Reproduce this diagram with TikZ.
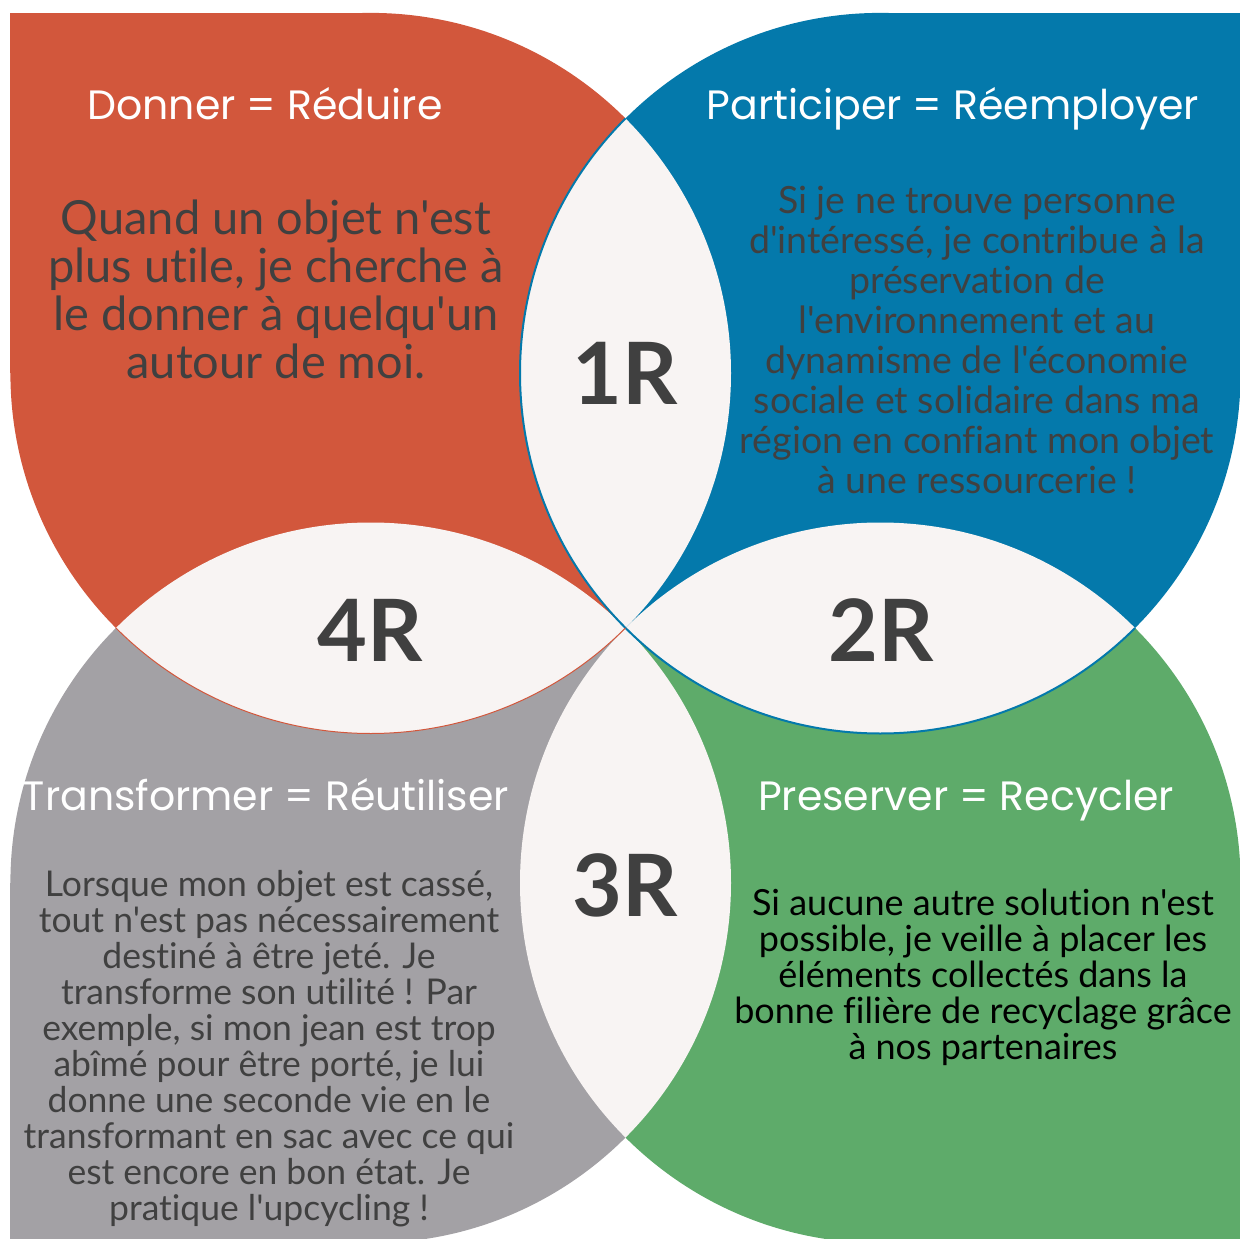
\documentclass[tikz,border=0pt]{standalone}
\usepackage{fontspec}
\setmainfont{Lato}[Ligatures={TeXOff,NoCommon}]
\newfontfamily\headfont{Poppins}
\definecolor{leafred}{HTML}{D2573C}
\definecolor{leafblue}{HTML}{0479AB}
\definecolor{leafgreen}{HTML}{5EAB6A}
\definecolor{leafgrey}{HTML}{A3A1A5}
\definecolor{lens}{HTML}{F8F4F3}
\definecolor{textgrey}{HTML}{404040}
\tikzset{
  title/.style={text=white, inner sep=0pt, anchor=base, font=\headfont\fontsize{41}{46}\selectfont},
  body/.style={align=center, inner sep=0pt, text=textgrey},
  bigr/.style={text=textgrey, inner sep=0pt, font=\bfseries\fontsize{86}{90}\selectfont}
}
\begin{document}
\begin{tikzpicture}[x=1pt,y=-1pt]
	\useasboundingbox (0,0) rectangle (1240,1239);
	% leaves, each kept to its own quarter
	\begin{scope}
		\clip (0,0) rectangle (625.5,628);
		\fill [leafred] (370.7,373.2) circle (360.3);
		\fill [leafred] (10.4,12.9) rectangle (370.7,373.2);
		\fill [leafred] (370.7,373.2) rectangle (625.5,628);
	\end{scope}
	\begin{scope}
		\clip (625.5,0) rectangle (1240,628);
		\fill [leafblue] (880.3,373.2) circle (360.3);
		\fill [leafblue] (880.3,12.9) rectangle (1240.6,373.2);
		\fill [leafblue] (625.5,373.2) rectangle (880.3,628);
	\end{scope}
	\begin{scope}
		\clip (0,628) rectangle (625.5,1239);
		\fill [leafgrey] (370.7,882.8) circle (360.3);
		\fill [leafgrey] (370.7,628) rectangle (625.5,882.8);
		\fill [leafgrey] (10.4,882.8) rectangle (370.7,1243.1);
	\end{scope}
	\begin{scope}
		\clip (625.5,628) rectangle (1240,1239);
		\fill [leafgreen] (880.3,882.8) circle (360.3);
		\fill [leafgreen] (625.5,628) rectangle (880.3,882.8);
		\fill [leafgreen] (880.3,882.8) rectangle (1240.6,1243.1);
	\end{scope}
	% lenses
	\begin{scope}
		\clip (370.7,373.2) circle (360.3);
		\fill [lens] (880.3,373.2) circle (360.3);
	\end{scope}
	\begin{scope}
		\clip (880.3,373.2) circle (360.3);
		\fill [lens] (880.3,882.8) circle (360.3);
	\end{scope}
	\begin{scope}
		\clip (880.3,882.8) circle (360.3);
		\fill [lens] (370.7,882.8) circle (360.3);
	\end{scope}
	\begin{scope}
		\clip (370.7,882.8) circle (360.3);
		\fill [lens] (370.7,373.2) circle (360.3);
	\end{scope}
	% thin rims
	\draw [leafblue, line width=2pt] (880.3,373.2) ++(225:360.3) arc [start angle=225, end angle=45, radius=360.3];
	\draw [leafred, line width=1pt] (370.7,373.2) ++(135:360.3) arc [start angle=135, end angle=45, radius=360.3];
	% titles
	\node [title] (reduire) at (265,119) {Donner = Réduire};
	\node [title] (reemployer) at (953,119) {Participer = Réemployer};
	\node [title] (reutiliser) at (266,810) {Transformer = Réutiliser};
	\node [title] (recycler) at (966,810) {Preserver = Recycler};
	% texts
	\node [body, font=\fontsize{47}{48}\selectfont] (txtreduire) at (276,289) {Quand un objet n'est\\plus utile, je cherche à\\le donner à quelqu'un\\autour de moi.};
	\node [body, font=\fontsize{37.5}{40}\selectfont] (txtreemployer) at (977,340) {Si je ne trouve personne\\d'intéressé, je contribue à la\\préservation de\\l'environnement et au\\dynamisme de l'économie\\sociale et solidaire dans ma\\région en confiant mon objet\\à une ressourcerie !};
	\node [body, font=\fontsize{35.5}{36}\selectfont] (txtreutiliser) at (269,1049) {Lorsque mon objet est cassé,\\tout n'est pas nécessairement\\destiné à être jeté. Je\\transforme son utilité ! Par\\exemple, si mon jean est trop\\abîmé pour être porté, je lui\\donne une seconde vie en le\\transformant en sac avec ce qui\\est encore en bon état. Je\\pratique l'upcycling !};
	\node [body, text=black, font=\fontsize{36}{36}\selectfont] (txtrecycler) at (983,977) {Si aucune autre solution n'est\\possible, je veille à placer les\\éléments collectés dans la\\bonne filière de recyclage grâce\\à nos partenaires};
	% the four R
	\node [bigr] (r1) at (625,373) {1R};
	\node [bigr] (r2) at (881,630) {2R};
	\node [bigr] (r3) at (625,885) {3R};
	\node [bigr] (r4) at (370,630) {4R};
\end{tikzpicture}
\end{document}
